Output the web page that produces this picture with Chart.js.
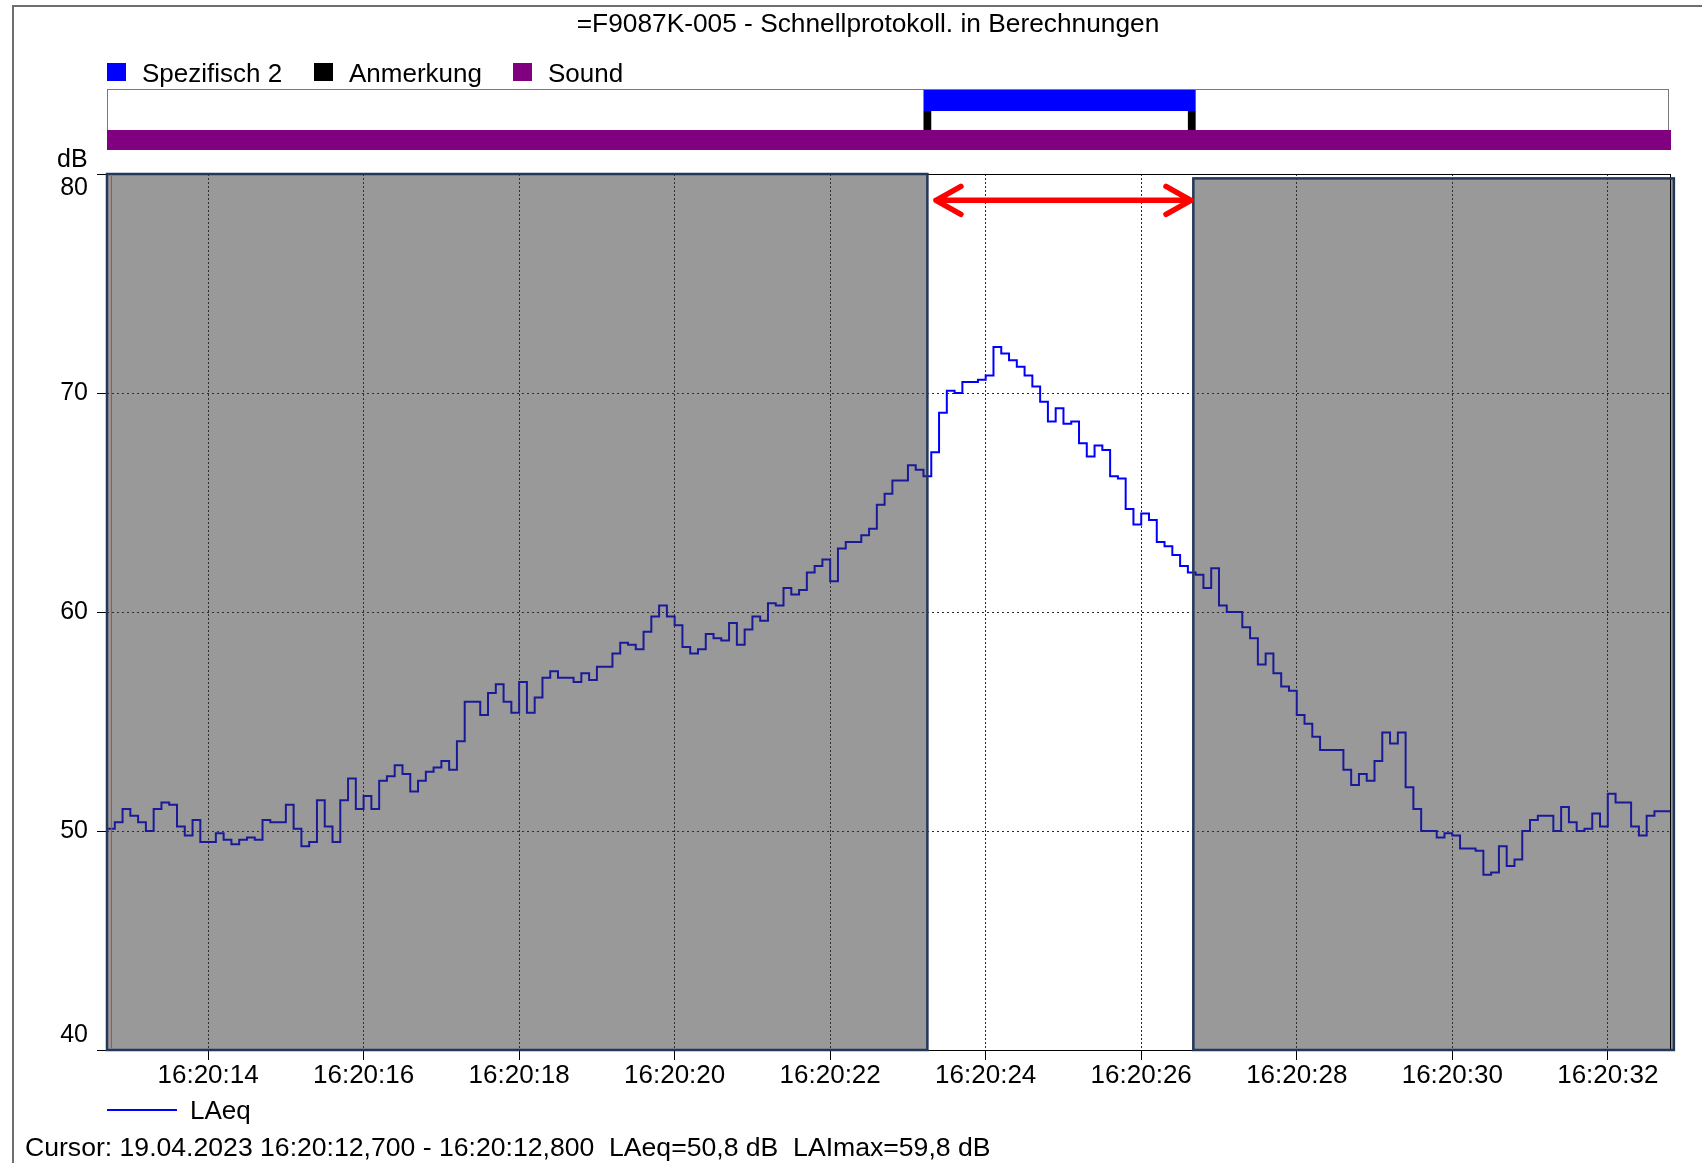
<!DOCTYPE html>
<html>
<head>
<meta charset="utf-8">
<title>F9087K-005 - Schnellprotokoll</title>
<script src="https://cdn.jsdelivr.net/npm/chart.js@4.4.1/dist/chart.umd.min.js"></script>
<style>
  html, body { margin: 0; padding: 0; background: #fff; }
  #wrap { position: relative; width: 1702px; height: 1163px; }
</style>
</head>
<body>
<div id="wrap"><canvas id="chart" width="1702" height="1163"></canvas></div>
<script>
// LAeq in 100 ms steps, first sample at 16:20:12,7 (x = seconds after 16:20:00)
const sampleStart = 12.7;
const sampleStep = 0.1;
const laeq = [
    50.8, 50.1, 50.4, 51.0, 50.7, 50.4, 50.0, 51.0, 51.3, 51.2,
    50.2, 49.8, 50.5, 49.5, 49.5, 49.9, 49.6, 49.4, 49.6, 49.7,
    49.6, 50.5, 50.4, 50.4, 51.2, 50.1, 49.3, 49.5, 51.4, 50.2,
    49.5, 51.4, 52.4, 51.0, 51.6, 51.0, 52.3, 52.5, 53.0, 52.6,
    51.8, 52.3, 52.7, 52.9, 53.2, 52.8, 54.1, 55.9, 55.9, 55.3,
    56.3, 56.7, 55.9, 55.4, 56.8, 55.4, 56.1, 57.0, 57.3, 57.0,
    57.0, 56.8, 57.2, 56.9, 57.5, 57.5, 58.1, 58.6, 58.5, 58.3,
    59.1, 59.8, 60.3, 59.8, 59.4, 58.4, 58.1, 58.3, 59.0, 58.8,
    58.7, 59.5, 58.5, 59.2, 59.8, 59.6, 60.4, 60.3, 61.1, 60.8,
    61.0, 61.8, 62.1, 62.4, 61.4, 62.9, 63.2, 63.2, 63.5, 63.8,
    64.9, 65.4, 66.0, 66.0, 66.7, 66.5, 66.2, 67.3, 69.1, 70.1,
    70.0, 70.5, 70.5, 70.6, 70.8, 72.1, 71.8, 71.5, 71.2, 70.8,
    70.3, 69.6, 68.7, 69.3, 68.6, 68.7, 67.7, 67.1, 67.6, 67.4,
    66.2, 66.1, 64.7, 64.0, 64.5, 64.2, 63.2, 63.0, 62.6, 62.1,
    61.8, 61.7, 61.1, 62.0, 60.3, 60.0, 60.0, 59.3, 58.8, 57.6,
    58.1, 57.2, 56.6, 56.4, 55.3, 54.9, 54.3, 53.7, 53.7, 53.7,
    52.8, 52.1, 52.6, 52.3, 53.2, 54.5, 54.0, 54.5, 52.0, 51.0,
    50.0, 50.0, 49.7, 49.9, 49.8, 49.2, 49.2, 49.1, 48.0, 48.1,
    49.3, 48.4, 48.7, 50.0, 50.5, 50.7, 50.7, 50.0, 51.1, 50.4,
    50.0, 50.1, 50.8, 50.2, 51.7, 51.3, 51.3, 50.2, 49.8, 50.7,
    50.9
];

const xTickSeconds = [14, 16, 18, 20, 22, 24, 26, 28, 30, 32];
const xTickLabels = ['16:20:14', '16:20:16', '16:20:18', '16:20:20', '16:20:22',
                     '16:20:24', '16:20:26', '16:20:28', '16:20:30', '16:20:32'];
const yTickValues = [40, 50, 60, 70, 80];

// event tracks above the plot (seconds)
const trackNames = ['Spezifisch 2', 'Anmerkung', 'Sound'];
const soundSpan = [12.7, 32.8];
const spezSpan = [23.2, 26.7];
const noteMarks = [[23.2, 23.3], [26.6, 26.7]];

// greyed-out ranges outside the selection, arrow between them, cursor
const greyRanges = [[12.7, 23.25], [26.67, 32.85]];
const greyTops = [80, 79.8];
const arrowSpan = [23.36, 26.64];
const arrowLevel = 78.8;
const cursorTime = 12.75;

const titleText = '=F9087K-005 - Schnellprotokoll. in Berechnungen';
const cursorText = 'Cursor: 19.04.2023 16:20:12,700 - 16:20:12,800  LAeq=50,8 dB  LAImax=59,8 dB';

const FONT = '"Liberation Sans", Arial, sans-serif';
const trackColors = ['#0000ff', '#000000', '#800080'];
const trackLegendX = [107, 314, 513];

const points = laeq.map((v, i) => ({ x: sampleStart + i * sampleStep, y: v }));
points.push({ x: sampleStart + laeq.length * sampleStep, y: laeq[laeq.length - 1] });

const decor = {
    id: 'decor',
    beforeDraw(chart) {
        const { ctx, chartArea: a, scales: { x } } = chart;
        ctx.save();
        ctx.fillStyle = '#fff';
        ctx.fillRect(0, 0, chart.width, chart.height);

        // outer frame (left + top)
        ctx.strokeStyle = '#6e6e6e';
        ctx.lineWidth = 2;
        ctx.beginPath();
        ctx.moveTo(13, chart.height);
        ctx.lineTo(13, 6);
        ctx.lineTo(chart.width, 6);
        ctx.stroke();

        // title
        ctx.fillStyle = '#000';
        ctx.font = '26.3px ' + FONT;
        ctx.textAlign = 'center';
        ctx.textBaseline = 'middle';
        ctx.fillText(titleText, 868, 25);

        // track legend
        ctx.font = '26px ' + FONT;
        ctx.textAlign = 'left';
        trackNames.forEach((name, i) => {
            const lx = trackLegendX[i];
            ctx.fillStyle = trackColors[i];
            ctx.fillRect(lx, 63, 19, 18);
            ctx.fillStyle = '#000';
            ctx.fillText(name, lx + 35, 75);
        });

        // track box
        const x0 = x.getPixelForValue(soundSpan[0]);
        const x1 = x.getPixelForValue(soundSpan[1]);
        ctx.strokeStyle = '#7a7a7a';
        ctx.lineWidth = 1;
        ctx.strokeRect(x0 + 0.5, 89.5, a.right - a.left - 2, 41);
        ctx.fillStyle = '#800080';
        ctx.fillRect(x0, 130, x1 - x0 + 1, 20);

        const s0 = x.getPixelForValue(spezSpan[0]);
        const s1 = x.getPixelForValue(spezSpan[1]);
        ctx.fillStyle = '#0000ff';
        ctx.fillRect(s0, 90, s1 - s0, 21);
        ctx.fillStyle = '#000';
        noteMarks.forEach(([m0, m1]) => {
            const p0 = x.getPixelForValue(m0);
            const p1 = x.getPixelForValue(m1);
            ctx.fillRect(p0, 111, p1 - p0, 19);
        });
        ctx.restore();
    },
    afterDatasetsDraw(chart) {
        const { ctx, chartArea: a, scales: { x, y } } = chart;
        ctx.save();
        // grey ranges on top of the trace
        greyRanges.forEach(([g0, g1], i) => {
            const p0 = x.getPixelForValue(g0);
            const p1 = x.getPixelForValue(g1);
            const top = y.getPixelForValue(greyTops[i]);
            ctx.fillStyle = 'rgba(51,51,51,0.5)';
            ctx.fillRect(p0, top, p1 - p0, a.bottom - top);
        });
        // plot frame
        ctx.strokeStyle = '#000';
        ctx.lineWidth = 1;
        ctx.strokeRect(a.left + 0.5, a.top + 0.5, a.right - a.left, a.bottom - a.top);
        greyRanges.forEach(([g0, g1], i) => {
            const p0 = x.getPixelForValue(g0);
            const p1 = x.getPixelForValue(g1);
            const top = y.getPixelForValue(greyTops[i]);
            ctx.strokeStyle = '#22375a';
            ctx.lineWidth = 2.5;
            ctx.strokeRect(p0, top, p1 - p0, a.bottom - top);
        });
        // cursor
        const cx = x.getPixelForValue(cursorTime);
        ctx.strokeStyle = '#d03a3a';
        ctx.lineWidth = 1;
        ctx.beginPath();
        ctx.moveTo(cx + 0.5, a.top + 2);
        ctx.lineTo(cx + 0.5, a.bottom - 2);
        ctx.stroke();

        // red arrow
        const ax0 = x.getPixelForValue(arrowSpan[0]);
        const ax1 = x.getPixelForValue(arrowSpan[1]);
        const ay = y.getPixelForValue(arrowLevel);
        ctx.strokeStyle = '#ff0000';
        ctx.lineWidth = 5.5;
        ctx.lineCap = 'round';
        ctx.lineJoin = 'round';
        ctx.beginPath();
        ctx.moveTo(ax0, ay);
        ctx.lineTo(ax1, ay);
        ctx.moveTo(ax0 + 25, ay - 14);
        ctx.lineTo(ax0, ay);
        ctx.lineTo(ax0 + 25, ay + 14);
        ctx.moveTo(ax1 - 25, ay - 14);
        ctx.lineTo(ax1, ay);
        ctx.lineTo(ax1 - 25, ay + 14);
        ctx.stroke();
        ctx.restore();
    },
    afterDraw(chart) {
        const { ctx, chartArea: a, scales: { y } } = chart;
        ctx.save();
        ctx.fillStyle = '#000';
        ctx.textBaseline = 'middle';

        // y labels, kept inside the plot height
        ctx.font = '25px ' + FONT;
        ctx.textAlign = 'right';
        yTickValues.forEach(v => {
            const py = Math.min(Math.max(y.getPixelForValue(v), a.top + 14), a.bottom - 15);
            ctx.fillText(String(v), 88, py);
        });
        ctx.textAlign = 'left';
        ctx.fillText('dB', 57, 160);

        // series legend
        ctx.strokeStyle = '#0000ff';
        ctx.lineWidth = 2;
        ctx.beginPath();
        ctx.moveTo(107, 1110);
        ctx.lineTo(177, 1110);
        ctx.stroke();
        ctx.font = '26px ' + FONT;
        ctx.fillText(chart.data.datasets[0].label, 190, 1112);

        ctx.font = '26.6px ' + FONT;
        ctx.fillText(cursorText, 25, 1149);
        ctx.restore();
    }
};

new Chart(document.getElementById('chart'), {
    type: 'line',
    data: {
        datasets: [{
            label: 'LAeq',
            data: points,
            stepped: 'after',
            borderColor: '#0000ff',
            borderWidth: 2,
            pointRadius: 0,
            fill: false
        }]
    },
    options: {
        responsive: false,
        animation: false,
        devicePixelRatio: 1,
        layout: { padding: { left: 97, right: 32, top: 174, bottom: 71 } },
        plugins: { legend: { display: false }, tooltip: { enabled: false } },
        scales: {
            x: {
                type: 'linear',
                min: 12.7,
                max: 32.8,
                afterBuildTicks: s => { s.ticks = xTickSeconds.map(v => ({ value: v })); },
                afterFit: s => { s.height = 42; },
                ticks: {
                    callback: (v, i) => xTickLabels[i],
                    color: '#000',
                    font: { family: FONT, size: 26 },
                    padding: 0,
                    maxRotation: 0,
                    autoSkip: false
                },
                grid: { color: '#2a2a2a', lineWidth: 1, tickLength: 10, tickColor: '#000', tickBorderDash: [] },
                border: { display: false, dash: [2, 2] }
            },
            y: {
                min: 40,
                max: 80,
                afterBuildTicks: s => { s.ticks = yTickValues.map(v => ({ value: v })); },
                afterFit: s => { s.width = 10; },
                ticks: { display: false },
                grid: { color: '#2a2a2a', lineWidth: 1, tickLength: 10, tickColor: '#000', tickBorderDash: [] },
                border: { display: false, dash: [2, 3] }
            }
        }
    },
    plugins: [decor]
});
</script>
</body>
</html>
